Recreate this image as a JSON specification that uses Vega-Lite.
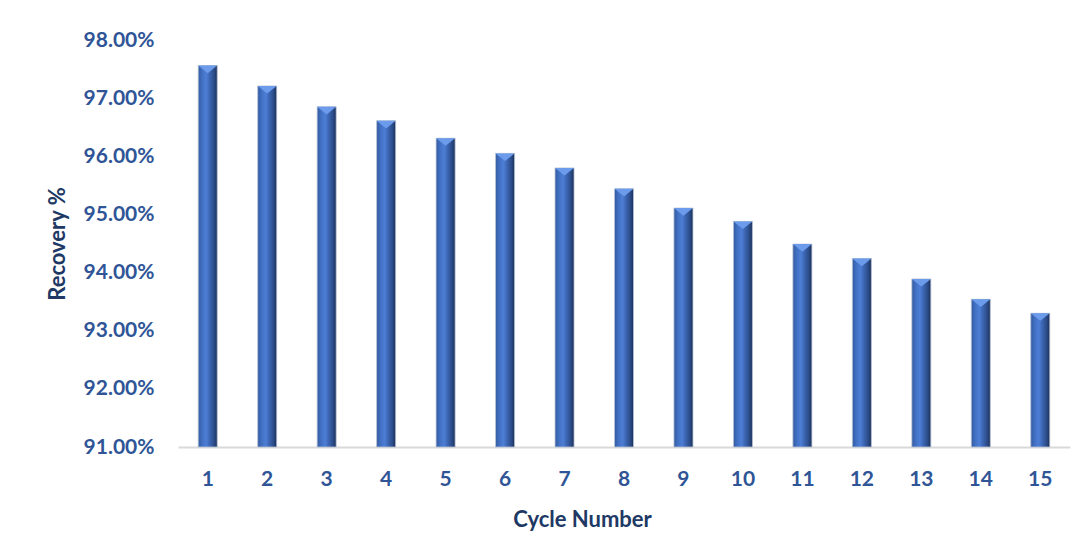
{
  "$schema": "https://vega.github.io/schema/vega-lite/v6.json",
  "width": 892,
  "height": 407,
  "autosize": "none",
  "padding": {"left": 178, "top": 40, "right": 17, "bottom": 112},
  "background": "white",
  "config": {
    "view": {"stroke": null},
    "font": "Lato"
  },
  "data": {
    "values": [
      {"cycle": 1, "recovery": 0.9756},
      {"cycle": 2, "recovery": 0.9721},
      {"cycle": 3, "recovery": 0.9685},
      {"cycle": 4, "recovery": 0.9661},
      {"cycle": 5, "recovery": 0.9631},
      {"cycle": 6, "recovery": 0.9605},
      {"cycle": 7, "recovery": 0.958},
      {"cycle": 8, "recovery": 0.9544},
      {"cycle": 9, "recovery": 0.9511},
      {"cycle": 10, "recovery": 0.9488},
      {"cycle": 11, "recovery": 0.9449},
      {"cycle": 12, "recovery": 0.9424},
      {"cycle": 13, "recovery": 0.9389},
      {"cycle": 14, "recovery": 0.9354},
      {"cycle": 15, "recovery": 0.933}
    ]
  },
  "encoding": {
    "x": {
      "field": "cycle",
      "type": "ordinal",
      "scale": {"paddingInner": 0, "paddingOuter": 0},
      "axis": {
        "title": "Cycle Number",
        "titleFontSize": 22,
        "titleFontWeight": "bold",
        "titleColor": "#203864",
        "titleX": 404,
        "titleY": 62,
        "labelAngle": 0,
        "labelFontSize": 21,
        "labelFontWeight": "bold",
        "labelColor": "#2F5597",
        "labelPadding": 21,
        "ticks": false,
        "domainColor": "#D9D9D9",
        "domainWidth": 2
      }
    },
    "y": {
      "field": "recovery",
      "type": "quantitative",
      "scale": {"domain": [0.91, 0.98], "zero": false, "nice": false},
      "axis": {
        "title": "Recovery %",
        "titleFontSize": 22,
        "titleFontWeight": "bold",
        "titleColor": "#203864",
        "titlePadding": 14,
        "format": ".2%",
        "values": [0.91, 0.92, 0.93, 0.94, 0.95, 0.96, 0.97, 0.98],
        "labelFontSize": 21,
        "labelFontWeight": "bold",
        "labelColor": "#2F5597",
        "labelPadding": 24,
        "ticks": false,
        "domain": false,
        "grid": false
      }
    }
  },
  "layer": [
    {
      "mark": {
        "type": "bar",
        "width": 19,
        "stroke": "#B8C3D6",
        "strokeWidth": 0.8,
        "color": {
          "gradient": "linear",
          "x1": 0, "x2": 1, "y1": 0, "y2": 0,
          "stops": [
            {"offset": 0, "color": "#3259A0"},
            {"offset": 0.2, "color": "#4170C2"},
            {"offset": 0.42, "color": "#4D7ED6"},
            {"offset": 0.62, "color": "#3B64B0"},
            {"offset": 0.85, "color": "#2A4A85"},
            {"offset": 1, "color": "#1A2E55"}
          ]
        }
      },
      "encoding": {"y2": {"datum": 0.91}}
    },
    {
      "mark": {
        "type": "point",
        "shape": "M-1,0L1,0L0,0.8Z",
        "filled": true,
        "size": 361,
        "opacity": 1,
        "strokeWidth": 0,
        "color": "#6B9BEA"
      }
    }
  ]
}
